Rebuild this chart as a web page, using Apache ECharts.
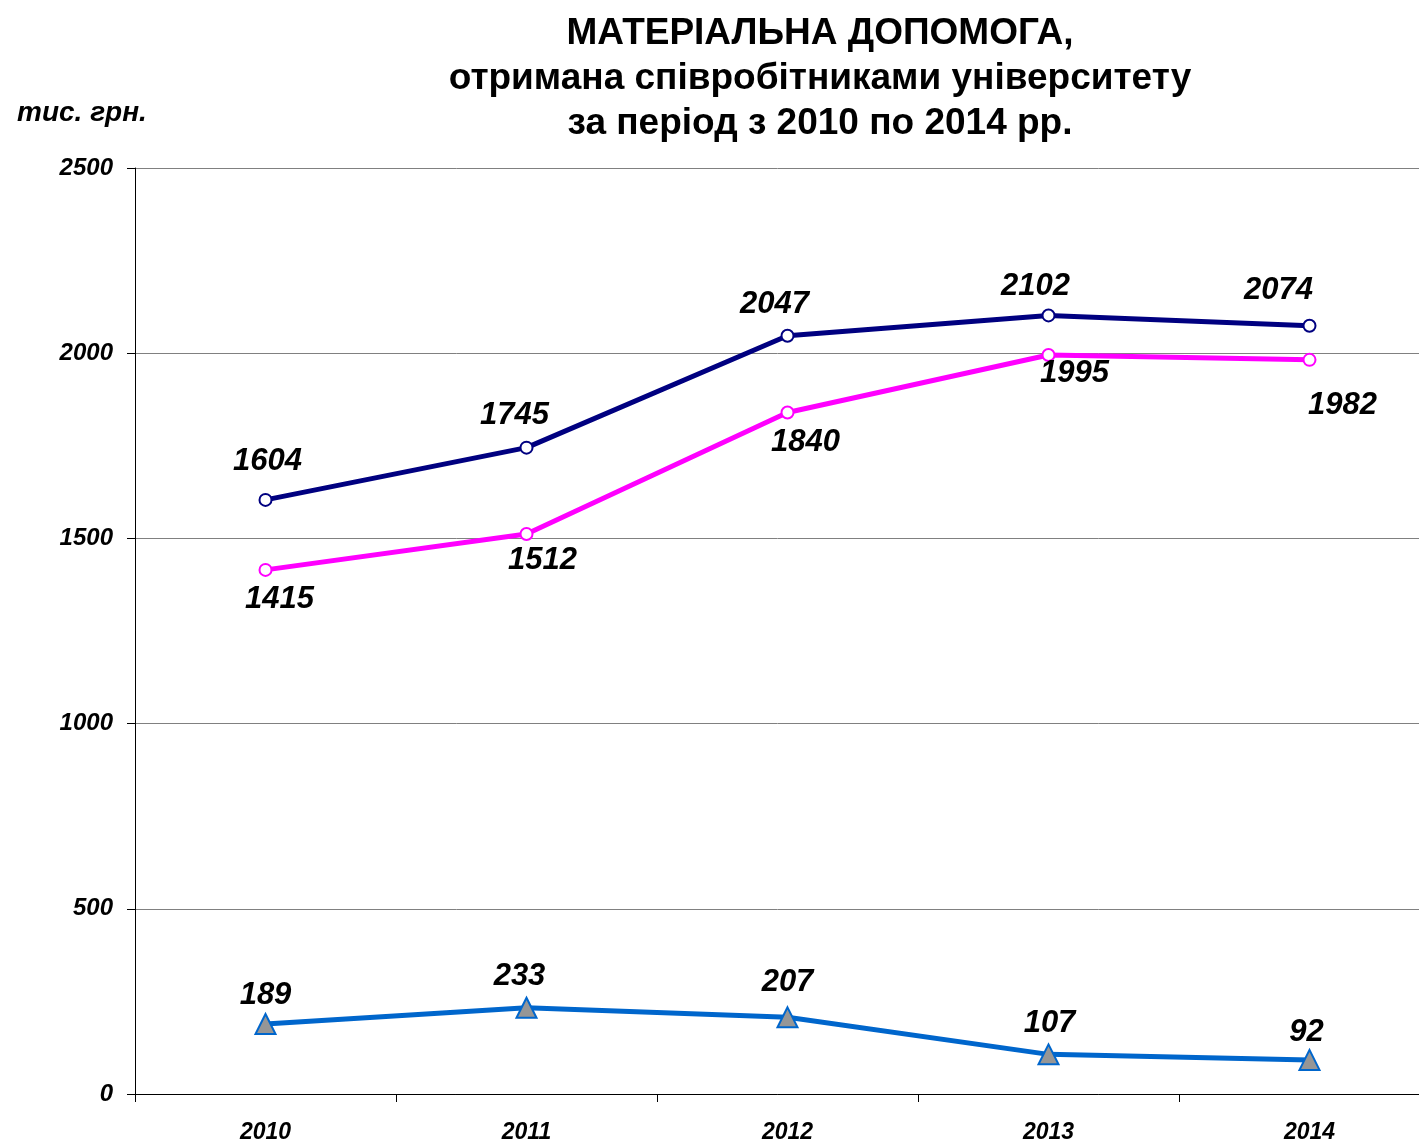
<!DOCTYPE html>
<html>
<head>
<meta charset="utf-8">
<style>
  html, body { margin: 0; padding: 0; background: #fff; }
  #chart { width: 1419px; height: 1144px; }
</style>
<script src="https://cdn.jsdelivr.net/npm/echarts@6/dist/echarts.min.js"></script>
</head>
<body>
<div id="chart"></div>
<script>
// Years on the category axis
const years = ['2010', '2011', '2012', '2013', '2014'];
// Value axis ticks (тис. грн.)
const yTicks = [0, 500, 1000, 1500, 2000, 2500];

// Three series of material aid amounts
const totalAid = [1604, 1745, 2047, 2102, 2074];
const staffAid = [1415, 1512, 1840, 1995, 1982];
const otherAid = [189, 233, 207, 107, 92];

// Per-point label nudges [dx, dy] from the marker centre
const totalOffsets = [[2, -38], [-12, -32], [-13, -31], [-13, -29], [-31, -35]];
const staffOffsets = [[14, 30], [16, 26], [18, 30], [26, 18], [33, 46]];
const otherOffsets = [[0, -29], [-7, -31], [0, -35], [1, -31], [-3, -27]];

const FONT = '"Liberation Sans", Arial, sans-serif';

function withLabels(values, offsets) {
  return values.map((v, i) => ({
    value: v,
    label: { offset: offsets[i] }
  }));
}

const valueLabel = {
  show: true,
  position: 'inside',
  align: 'center',
  verticalAlign: 'middle',
  fontFamily: FONT,
  fontSize: 31,
  fontWeight: 'bold',
  fontStyle: 'italic',
  color: '#000'
};

const chart = echarts.init(document.getElementById('chart'), null, { renderer: 'canvas' });

chart.setOption({
  animation: false,
  backgroundColor: '#fff',
  title: {
    text: 'МАТЕРІАЛЬНА ДОПОМОГА,\nотримана співробітниками університету\nза період з 2010 по 2014 рр.',
    left: 815,
    top: 6,
    textAlign: 'center',
    textStyle: {
      fontFamily: FONT,
      fontSize: 37,
      fontWeight: 'bold',
      color: '#000',
      lineHeight: 45
    }
  },
  graphic: [{
    type: 'text',
    left: 17,
    top: 99,
    style: {
      text: 'тис. грн.',
      font: 'italic bold 28px ' + FONT,
      fill: '#000'
    }
  }],
  grid: {
    left: 135,
    top: 168,
    width: 1305,
    height: 926,
    outerBoundsMode: 'none',
    containLabel: false
  },
  xAxis: {
    type: 'category',
    data: years,
    boundaryGap: true,
    axisLine: { lineStyle: { color: '#000', width: 1 } },
    axisTick: { show: true, length: 8, inside: false, lineStyle: { color: '#000' } },
    axisLabel: {
      margin: 27,
      fontFamily: FONT,
      fontSize: 23,
      fontWeight: 'bold',
      fontStyle: 'italic',
      color: '#000'
    }
  },
  yAxis: {
    type: 'value',
    min: yTicks[0],
    max: yTicks[yTicks.length - 1],
    interval: yTicks[1] - yTicks[0],
    axisLine: { show: true, lineStyle: { color: '#000', width: 1 } },
    axisTick: { show: true, length: 8, lineStyle: { color: '#000' } },
    axisLabel: {
      margin: 22,
      formatter: v => String(v),
      fontFamily: FONT,
      fontSize: 24,
      fontWeight: 'bold',
      fontStyle: 'italic',
      color: '#000'
    },
    splitLine: { show: true, lineStyle: { color: '#808080', width: 1 } }
  },
  series: [
    {
      name: 'total',
      type: 'line',
      data: withLabels(totalAid, totalOffsets),
      lineStyle: { color: '#000080', width: 5 },
      itemStyle: { color: '#fff', borderColor: '#000080', borderWidth: 2 },
      symbol: 'circle',
      symbolSize: 12,
      label: valueLabel,
      z: 3
    },
    {
      name: 'staff',
      type: 'line',
      data: withLabels(staffAid, staffOffsets),
      lineStyle: { color: '#FF00FF', width: 5 },
      itemStyle: { color: '#fff', borderColor: '#FF00FF', borderWidth: 2 },
      symbol: 'circle',
      symbolSize: 12,
      label: valueLabel,
      z: 3
    },
    {
      name: 'other',
      type: 'line',
      data: withLabels(otherAid, otherOffsets),
      lineStyle: { color: '#0066CC', width: 5 },
      itemStyle: { color: '#969696', borderColor: '#0066CC', borderWidth: 2 },
      symbol: 'triangle',
      symbolSize: 20,
      label: valueLabel,
      z: 3
    }
  ]
});
</script>
</body>
</html>
